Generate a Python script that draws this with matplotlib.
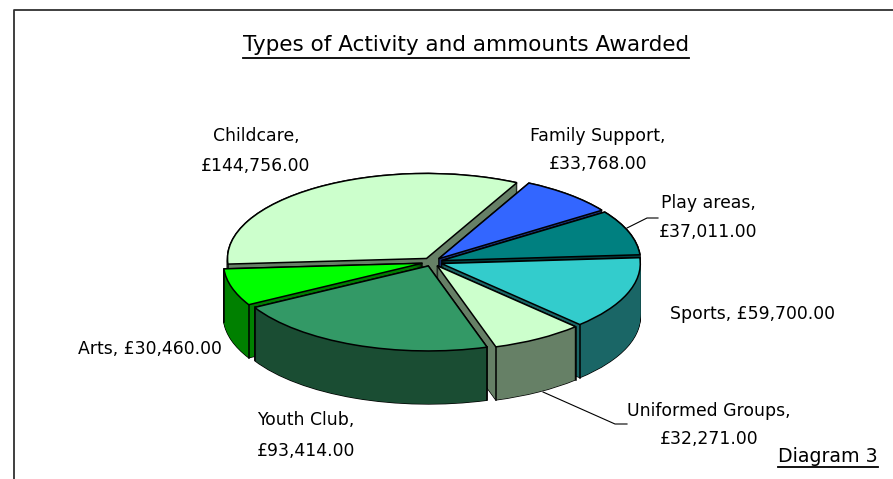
#!/usr/bin/env python3
# Exploded 3D style pie, built from stacked pies on a squashed axes
import numpy as np
import matplotlib
matplotlib.use("Agg")
import matplotlib.pyplot as plt

W, H = 893, 479

# Slices, clockwise from the Family Support slice
names = ['Family Support', 'Play areas', 'Sports', 'Uniformed Groups',
         'Youth Club', 'Arts', 'Childcare']
amounts = [33768.00, 37011.00, 59700.00, 32271.00, 93414.00, 30460.00, 144756.00]
top_colors = ['#3366FF', '#008080', '#33CCCC', '#CCFFCC', '#339966', '#00FF00', '#CCFFCC']
wall_colors = ['#1A3380', '#004040', '#1A6666', '#668066', '#1A4D33', '#008000', '#668066']
# back to front, indices into the lists above
draw_order = [6, 0, 1, 5, 2, 3, 4]

title = 'Types of Activity and ammounts Awarded'
note = 'Diagram 3'

# pie geometry in pixels
cx, cy = 432, 262
rx, ry = 199, 85
depth = 53
explode = [0.05] * len(amounts)

plt.rcParams['font.family'] = ['DejaVu Sans']

fig = plt.figure(figsize=(W / 100, H / 100), dpi=100)
ax = fig.add_axes([0, 0, 1, 1])
over = fig.add_axes([0, 0, 1, 1])
over.set_xlim(0, W)
over.set_ylim(H, 0)
over.axis('off')
over.patch.set_alpha(0)


def layer(offset, colors, lw, zadd):
    wedges, _ = ax.pie(amounts, colors=colors, explode=explode, startangle=63,
                       counterclock=False, center=(0, -offset),
                       wedgeprops=dict(linewidth=lw, edgecolor='black' if lw else 'none'))
    for z, k in enumerate(draw_order):
        wedges[k].set_zorder(z + zadd)
    return wedges


d_units = depth / ry
steps = np.linspace(d_units, 0, depth + 1)
black = ['black'] * len(amounts)
for off in steps:
    layer(off, black, 1.0, 0.1)
for off in steps:
    layer(off, wall_colors, 0, 0.2)
top = layer(0, top_colors, 1.1, 0.4)

# corner edges of the side walls on the front half
for z, k in enumerate(draw_order):
    w = top[k]
    for th in (w.theta1, w.theta2):
        a = np.radians(th)
        if np.sin(a) < 0:
            x = w.center[0] + w.r * np.cos(a)
            y = w.center[1] + w.r * np.sin(a)
            ax.plot([x, x], [y, y - d_units], color='black', lw=1.1, zorder=z + 0.3)

ax.set_aspect('auto')
ax.set_xlim(-cx / rx, (W - cx) / rx)
ax.set_ylim((cy - H) / ry, cy / ry)
ax.axis('off')

# page border
over.plot([14, 14, W], [H, 10, 10], color='#303030', lw=1.3, clip_on=False)


def money(v):
    return f'£{v:,.2f}'


fs = 12.4
# (index, centre x, first line y, second line y)
label_pos = [(6, 256, 136, 166), (0, 598, 136, 164), (1, 708, 203, 232),
             (3, 709, 411, 439), (4, 306, 420, 451)]
for i, x, y1, y2 in label_pos:
    over.text(x, y1, names[i] + ',', ha='center', va='center', fontsize=fs)
    over.text(x, y2, money(amounts[i]), ha='center', va='center', fontsize=fs)
over.text(753, 314, f'{names[2]}, {money(amounts[2])}', ha='center', va='center', fontsize=fs)
over.text(150, 349, f'{names[5]}, {money(amounts[5])}', ha='center', va='center', fontsize=fs)

# leader lines
over.plot([627, 647, 658], [228, 218, 218], color='black', lw=0.8, zorder=0.5)
over.plot([543, 615, 627], [392, 424, 424], color='black', lw=0.8, zorder=0.5)

# underlined texts
over.text(466, 45, title, ha='center', va='center', fontsize=15.5)
over.plot([243, 689], [58, 58], color='black', lw=1.3)
over.text(828, 457, note, ha='center', va='center', fontsize=13.7)
over.plot([778, 878], [467, 467], color='black', lw=1.3)

fig.savefig('out.png', dpi=100, facecolor='white')
